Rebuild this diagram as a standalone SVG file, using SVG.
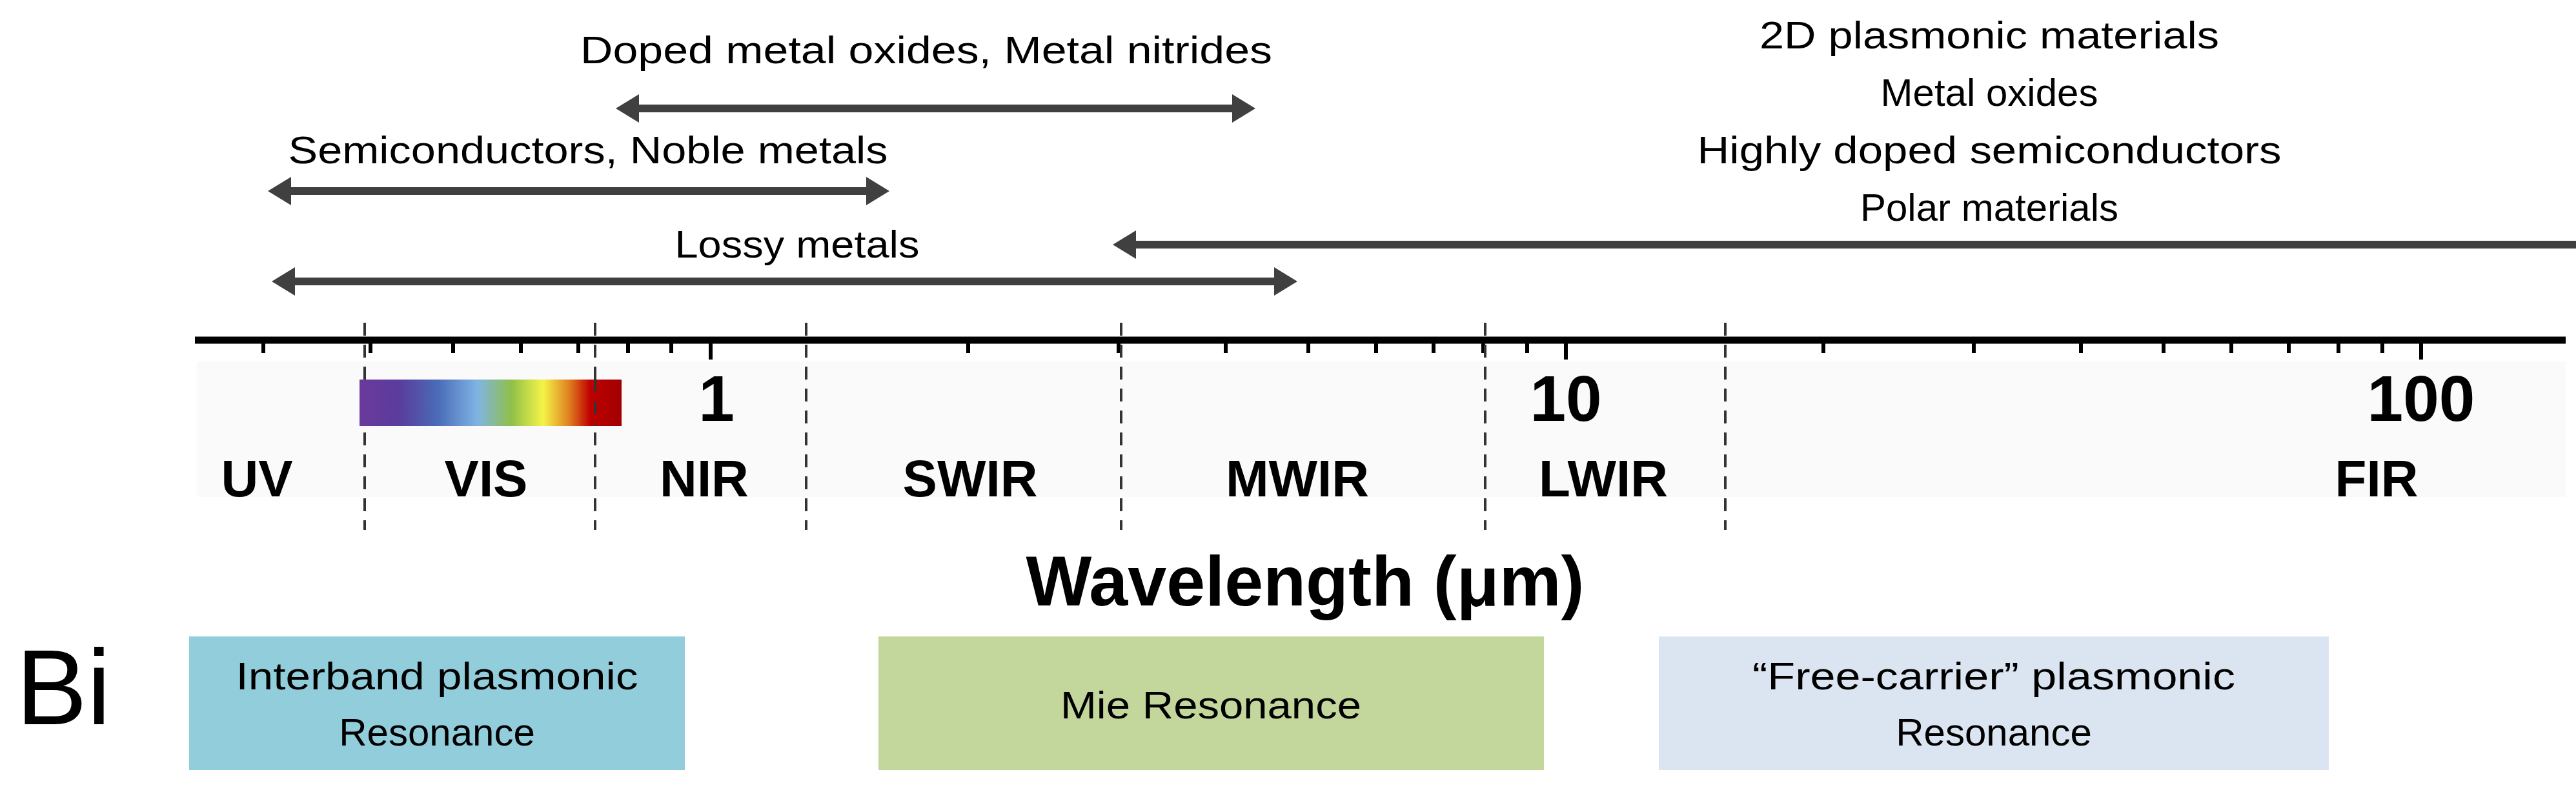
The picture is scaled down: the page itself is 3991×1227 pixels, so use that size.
<svg xmlns="http://www.w3.org/2000/svg" width="3991" height="1227" viewBox="0 0 3991 1227">
<style>
.t{font-family:"Liberation Sans",Arial,sans-serif;fill:#000}
.m{font-size:60px;text-anchor:middle}
.b{font-weight:bold;text-anchor:middle}
.sh{stroke:#404040;stroke-width:12}
.hd{fill:#404040}
.dash{stroke:#333;stroke-width:4;stroke-dasharray:20 14}
.tk{stroke:#000;stroke-width:6}
</style>
<defs>
<linearGradient id="spec" x1="0" x2="1" y1="0" y2="0">
<stop offset="0" stop-color="#6a3a9c"/><stop offset="0.15" stop-color="#5a3c9c"/>
<stop offset="0.3" stop-color="#4a6cb8"/><stop offset="0.45" stop-color="#80b4e4"/>
<stop offset="0.58" stop-color="#90c048"/><stop offset="0.7" stop-color="#f4f448"/>
<stop offset="0.8" stop-color="#e08020"/><stop offset="0.88" stop-color="#c00000"/>
<stop offset="1" stop-color="#a00000"/></linearGradient>
</defs>
<rect width="3991" height="1227" fill="#fff"/>
<rect x="305" y="560" width="3670" height="210" fill="#fafafa"/>
<g id="connectors">
<line class="sh" x1="990" y1="168" x2="1910" y2="168"/>
<polygon class="hd" points="954,168 990,146 990,190"/><polygon class="hd" points="1945,168 1909,146 1909,190"/>
<line class="sh" x1="451" y1="296" x2="1342" y2="296"/>
<polygon class="hd" points="415,296 451,274 451,318"/><polygon class="hd" points="1378,296 1342,274 1342,318"/>
<line class="sh" x1="457" y1="436" x2="1974" y2="436"/>
<polygon class="hd" points="421,436 457,414 457,458"/><polygon class="hd" points="2010,436 1974,414 1974,458"/>
<line class="sh" x1="1760" y1="379" x2="3991" y2="379"/>
<polygon class="hd" points="1724,379 1760,357 1760,401"/>
</g>
<g id="labels">
<text class="t m" x="1435" y="98" textLength="1072" lengthAdjust="spacingAndGlyphs">Doped metal oxides, Metal nitrides</text>
<text class="t m" x="911" y="253" textLength="929" lengthAdjust="spacingAndGlyphs">Semiconductors, Noble metals</text>
<text class="t m" x="1235" y="399" textLength="379" lengthAdjust="spacingAndGlyphs">Lossy metals</text>
<text class="t m" x="3082" y="75" textLength="712" lengthAdjust="spacingAndGlyphs">2D plasmonic materials</text>
<text class="t m" x="3082" y="164">Metal oxides</text>
<text class="t m" x="3082" y="253" textLength="905" lengthAdjust="spacingAndGlyphs">Highly doped semiconductors</text>
<text class="t m" x="3082" y="342">Polar materials</text>
</g>
<g id="axis">
<line x1="302" y1="527" x2="3975" y2="527" stroke="#000" stroke-width="11"/>
<path class="tk" d="M408 527v20M574 527v20M702 527v20M807 527v20M896 527v20M973 527v20M1040 527v20M1101 527v30M1500 527v20M1733 527v20M1899 527v20M2027 527v20M2132 527v20M2221 527v20M2298 527v20M2366 527v20M2426 527v30M2825 527v20M3058 527v20M3224 527v20M3352 527v20M3457 527v20M3546 527v20M3623 527v20M3691 527v20M3751 527v30"/>
<g class="dash"><line x1="565" y1="500" x2="565" y2="821"/><line x1="922" y1="500" x2="922" y2="821"/><line x1="1249" y1="500" x2="1249" y2="821"/><line x1="1737" y1="500" x2="1737" y2="821"/><line x1="2301" y1="500" x2="2301" y2="821"/><line x1="2673" y1="500" x2="2673" y2="821"/></g>
<rect x="557" y="588" width="406" height="72" fill="url(#spec)"/>
<line x1="922" y1="588" x2="922" y2="660" class="dash"/>
<g class="t b" style="font-size:100px"><text x="1110" y="652">1</text><text x="2426" y="652">10</text><text x="3751" y="652">100</text></g>
<g class="t b" style="font-size:80px"><text x="398" y="769">UV</text><text x="753" y="769">VIS</text><text x="1091" y="769">NIR</text><text x="1503" y="769">SWIR</text><text x="2010" y="769">MWIR</text><text x="2484" y="769">LWIR</text><text x="3682" y="769">FIR</text></g>
<text class="t b" x="2022" y="938" style="font-size:110px" textLength="865" lengthAdjust="spacingAndGlyphs">Wavelength (μm)</text>
</g>
<text class="t" x="25" y="1122" style="font-size:165px">Bi</text>
<g id="interband"><rect x="293" y="986" width="768" height="207" fill="#92cddc"/>
<text class="t m" x="677" y="1068" textLength="623" lengthAdjust="spacingAndGlyphs">Interband plasmonic</text><text class="t m" x="677" y="1155">Resonance</text></g>
<g id="mie"><rect x="1361" y="986" width="1031" height="207" fill="#c3d69b"/>
<text class="t m" x="1876" y="1113" textLength="466" lengthAdjust="spacingAndGlyphs">Mie Resonance</text></g>
<g id="freecarrier"><rect x="2570" y="986" width="1038" height="207" fill="#dbe5f1"/>
<text class="t m" x="3089" y="1068" textLength="748" lengthAdjust="spacingAndGlyphs">“Free-carrier” plasmonic</text><text class="t m" x="3089" y="1155">Resonance</text></g>
</svg>
